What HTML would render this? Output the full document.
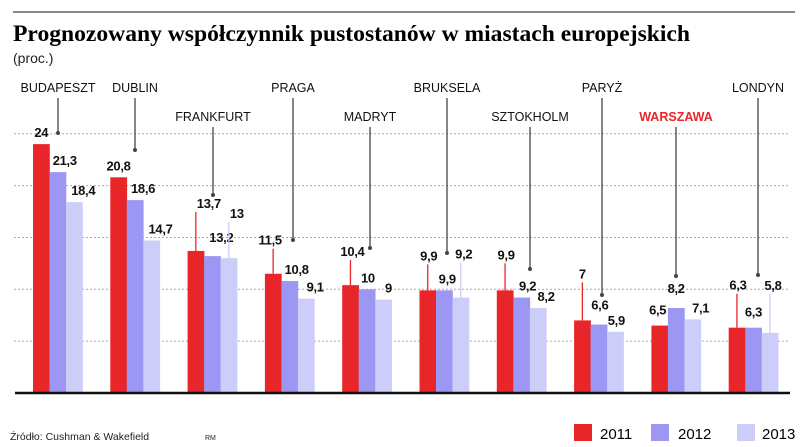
<!DOCTYPE html>
<html><head><meta charset="utf-8"><style>
html,body{margin:0;padding:0;background:#fff;width:805px;height:447px;overflow:hidden}
svg{display:block;font-family:"Liberation Sans",sans-serif}
</style></head><body>
<svg id="chart" width="805" height="447">
<line x1="13" y1="12" x2="795" y2="12" stroke="#888" stroke-width="2"/>
<text x="13" y="41" font-family="Liberation Serif, serif" font-weight="bold" font-size="23" textLength="677" lengthAdjust="spacingAndGlyphs">Prognozowany współczynnik pustostanów w miastach europejskich</text>
<text x="13" y="63" font-size="14" fill="#222">(proc.)</text>
<g id="grid"></g><g id="bars"></g><g id="labels"></g>
<line x1="15" y1="393" x2="790" y2="393" stroke="#111" stroke-width="2.5"/>
<text x="10" y="440" font-size="10.5" fill="#222">Źródło: Cushman &amp; Wakefield</text>
<text x="205" y="440" font-size="7" fill="#222">RM</text>
<g>
<rect x="574" y="424" width="18" height="17" fill="#e8262a"/>
<text x="600" y="439" font-size="15">2011</text>
<rect x="651" y="424" width="18" height="17" fill="#9b97f3"/>
<text x="678" y="439" font-size="15">2012</text>
<rect x="737" y="424" width="18" height="17" fill="#cdcdfa"/>
<text x="762" y="439" font-size="15">2013</text>
</g>
</svg>
<script>
const cities=["BUDAPESZT","DUBLIN","FRANKFURT","PRAGA","MADRYT","BRUKSELA","SZTOKHOLM","PARYŻ","WARSZAWA","LONDYN"];
const v2011=[24,20.8,13.7,11.5,10.4,9.9,9.9,7,6.5,6.3];
const v2012=[21.3,18.6,13.2,10.8,10,9.9,9.2,6.6,8.2,6.3];
const v2013=[18.4,14.7,13,9.1,9,9.2,8.2,5.9,7.1,5.8];
const gridTicks=[5,10,15,20,25];
const NS="http://www.w3.org/2000/svg";
const base=393,unit=10.37,x0=33,step=77.3,bw=16.5;
const y=v=>base-v*unit;
const gx=i=>x0+i*step;
const colors=["#e8262a","#9b97f3","#cdcdfa"];
const series=[v2011,v2012,v2013];
const years=["2011","2012","2013"];
const labelRow=[0,0,1,0,1,0,1,0,1,0];
const leaderX=[58,135,213,293,370,447,530,602,676,758];
const leaderEnd=[133,150,195,240,248,253,269,295,276,275];
const lifts=[[0,0,0],[0,0,0],[36,7,33],[22,0,0],[22,0,0],[23,0,32],[24,0,0],[35,8,0],[4,8,0],[31,4,36]];
const dxs=[[0,7,9],[0,8,9],[13,9,8],[-3,7,9],[2,1,5],[1,3,3],[1,6,8],[0,1,1],[-2,0,8],[1,0,3]];
function mk(tag,attrs,parent){const e=document.createElementNS(NS,tag);for(const k in attrs)e.setAttribute(k,attrs[k]);parent.appendChild(e);return e;}
const G=document.getElementById('grid'),B=document.getElementById('bars'),L=document.getElementById('labels');
gridTicks.forEach(t=>{const l=mk('line',{x1:14,x2:790,y1:y(t),y2:y(t),stroke:'#aaa','stroke-width':1,'stroke-dasharray':'2,2'},G);

});
cities.forEach((c,i)=>{
  series.forEach((s,k)=>{
    const bx=gx(i)+k*bw, cx=bx+bw/2, top=y(s[i]);
    const r=mk('rect',{x:bx,y:top,width:bw+0.3,height:base-top,fill:colors[k]},B);
    
    
    const lift=lifts[i][k];
    const ty=top-7-lift;
    if(lift>15&&k!==1){
      const pl=mk('line',{x1:cx,x2:cx,y1:top,y2:ty+4,stroke:colors[k],'stroke-width':1.3},L);
      
      
    }
    const t=mk('text',{x:cx+dxs[i][k],y:ty,'font-size':13,'font-weight':'bold','text-anchor':'middle',fill:'#111','letter-spacing':'-0.3'},L);
    t.textContent=String(s[i]).replace('.',',');
    
    
  });
  const ly=labelRow[i]?121:92;
  const t=mk('text',{x:leaderX[i],y:ly,'font-size':12.5,'text-anchor':'middle',fill:c==='WARSZAWA'?'#e8262a':'#111','font-weight':c==='WARSZAWA'?'bold':'normal'},L);
  t.textContent=c;
  
  
  const ln=mk('line',{x1:leaderX[i],x2:leaderX[i],y1:ly+6,y2:leaderEnd[i],stroke:'#444','stroke-width':1.3},L);
  
  
  const d=mk('circle',{cx:leaderX[i],cy:leaderEnd[i],r:2,fill:'#444'},L);
  
  
});
</script>
</body></html>
